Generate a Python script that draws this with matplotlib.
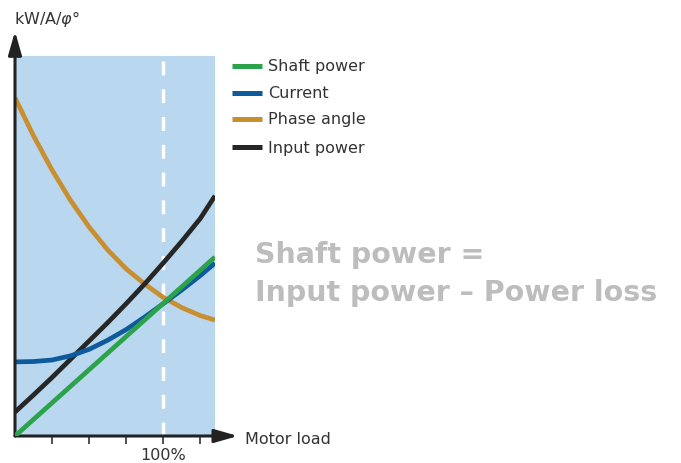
import numpy as np
import matplotlib
matplotlib.use("Agg")
import matplotlib.pyplot as plt

# %% Data (x in load units where 4 = 100%)
load_x = [0, 0.5, 1, 1.5, 2, 2.5, 3, 3.5, 4, 4.5, 5, 5.4]
shaft_x = [0, 5.4]
shaft_power = [0, 4.71]
current = [1.95, 1.96, 2.0, 2.11, 2.28, 2.52, 2.8, 3.13, 3.48, 3.84, 4.22, 4.55]
phase_angle = [8.9, 7.9, 7.0, 6.2, 5.5, 4.9, 4.4, 4.0, 3.65, 3.38, 3.17, 3.05]
input_power = [0.63, 1.08, 1.54, 2.02, 2.5, 2.98, 3.48, 4.0, 4.55, 5.12, 5.72, 6.32]
tick_pos = [1, 2, 3, 4, 5]
tick_labels = ["", "", "", "100%", ""]
rated_load = 4

plt.rcParams['font.family'] = ['DejaVu Sans']

# %% Figure
fig = plt.figure(figsize=(6.81, 4.64), dpi=100)
W, H = 681, 464
ax = fig.add_axes([15 / W, 27 / H, 200 / W, 380 / H])
ax.set_facecolor('#b9d8ef')
ax.set_xlim(0, 5.4)
ax.set_ylim(0, 10)
for s in ax.spines.values():
    s.set_visible(False)

ax.axvline(rated_load, color='white', lw=2.5, dashes=(4, 4), zorder=1)

line_kw = dict(lw=3.4, solid_capstyle='butt', solid_joinstyle='round')
ax.plot(load_x, phase_angle, color='#c98f2e', zorder=3, **line_kw)
ax.plot(load_x, input_power, color='#262626', zorder=3, **line_kw)
ax.plot(load_x, current, color='#0d5a9c', zorder=3, **line_kw)
ax.plot(shaft_x, shaft_power, color='#2ca34a', zorder=4, **line_kw)

ax.set_xticks(tick_pos)
ax.set_xticklabels(tick_labels, fontsize=11.5, color='#333333')
ax.tick_params(axis='x', length=6, width=1.2, color='#333333', pad=2)
ax.set_yticks([])

# axis arrows
ax.annotate('', xy=(1.115, 0), xytext=(0, 0), xycoords='axes fraction',
            arrowprops=dict(arrowstyle='-|>,head_length=1.4,head_width=0.4',
                            color='#222222', lw=2.2, shrinkA=0, shrinkB=0),
            annotation_clip=False)
ax.annotate('', xy=(0, 1.065), xytext=(0, 0), xycoords='axes fraction',
            arrowprops=dict(arrowstyle='-|>,head_length=1.4,head_width=0.4',
                            color='#222222', lw=2.2, shrinkA=0, shrinkB=0),
            annotation_clip=False)

fig.text(245 / W, 1 - 440 / H, 'Motor load', fontsize=11.5, color='#333333', va='center')
fig.text(14 / W, 1 - 19 / H, r'kW/A/$\varphi$°', fontsize=11.5, color='#333333', va='center')

# legend
names = ['Shaft power', 'Current', 'Phase angle', 'Input power']
colors = ['#2ca34a', '#0d5a9c', '#c98f2e', '#262626']
ys = [67, 94, 120, 148]
for name, c, y in zip(names, colors, ys):
    fy = 1 - y / H
    fig.add_artist(plt.Line2D([232 / W, 262 / W], [fy, fy], color=c, lw=3.6,
                              transform=fig.transFigure, solid_capstyle='butt'))
    fig.text(268 / W, fy, name, fontsize=11.5, color='#333333', va='center')

fig.text(255 / W, 1 - 255 / H, 'Shaft power =', fontsize=20.5, fontweight='bold',
         color='#bdbdbd', va='center')
fig.text(255 / W, 1 - 293 / H, 'Input power – Power loss', fontsize=20.5,
         fontweight='bold', color='#bdbdbd', va='center')

fig.savefig('out.png', dpi=100)
